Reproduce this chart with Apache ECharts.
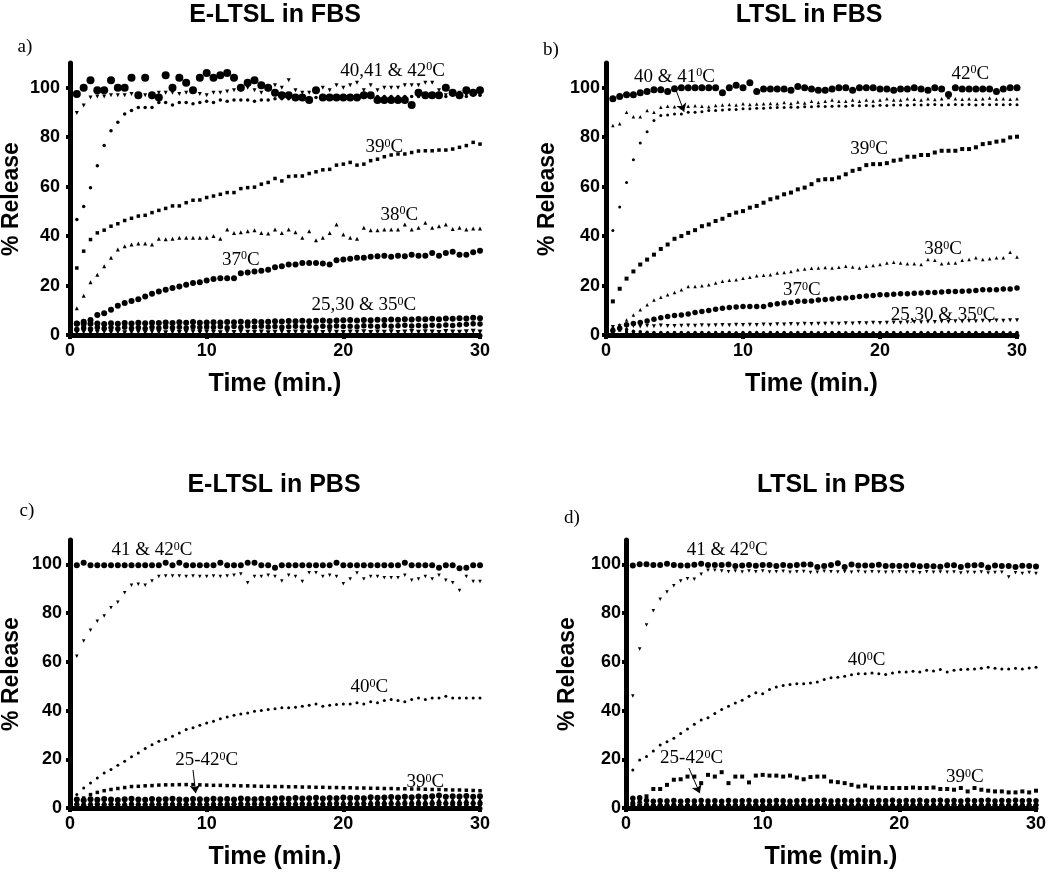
<!DOCTYPE html>
<html>
<head>
<meta charset="utf-8">
<script src="https://cdn.jsdelivr.net/npm/echarts@6/dist/echarts.min.js"></script>
<style>html,body{margin:0;padding:0;background:#fff}#c{width:1050px;height:874px}</style>
</head>
<body>
<div id="c"></div>
<script>
// ---------- sampling times (min) ----------
const TIME = [0.5,1,1.5,2,2.5,3,3.5,4,4.5,5, 5.5,6,6.5,7,7.5,8,8.5,9,9.5,10, 10.5,11,11.5,12,12.5,13,13.5,14,14.5,15, 15.5,16,16.5,17,17.5,18,18.5,19,19.5,20, 20.5,21,21.5,22,22.5,23,23.5,24,24.5,25, 25.5,26,26.5,27,27.5,28,28.5,29,29.5,30];
const X_TICKS = [0,10,20,30];
const Y_TICKS = [0,20,40,60,80,100];

// ---------- a) E-LTSL in FBS ----------
const A42 = [97.5,100,103,99,99,103,100,100,104,97, 104,97,96,105,100,104,102,99,104,106, 104,105,106,104,100,102,103,101,100,98, 97,97,96,96,95,99,96,96,96,96, 96,96,97,97,95,95,95,95,95,93, 98,97,97,97,100,98,97,99,98,99];
const A41 = [89.8,92.8,96,96.5,96.5,97,97,97,97.5,97, 97,96,98,98,98,97.5,98,98.5,97.5,97, 98,98,98.5,99,99,100,99,98,99,101, 100,103,99,98,98,99,100,99,101,100, 101,102,99,101,99,100,100,100,101,101, 101,102,102,99,97,97,98,97,97,97];
const A40 = [46.7,52,59.6,68.4,76.6,82.6,86,89.4,90.8,92, 92,92,94,94,93,94,94,93.5,94,94.5, 94,95,94.5,95,95,95,94.5,95,95,95.5, 95.5,95.5,96,96,96,96,96,96,96,96, 96,96,96,96,96.5,96.5,96.5,96.5,96.5,96.5, 96.5,97,97,96.5,96.5,97,97,96.5,97,97];
const A39 = [27.1,33.9,38.6,41.3,42.4,44,45,46.3,47.2,48.1, 48.4,49.5,50.4,51.2,52.2,52.2,53.5,54.5,54.6,55.6, 56.2,56.9,57.6,57.6,59.2,59.6,59.8,61,61.7,63.3, 62.3,64.1,64.3,64.3,65.3,66,66.8,67,68.7,69.1, 69.8,68.7,69.1,70.5,71.1,72.1,72.8,73.2,73.2,73.8, 74.4,74.5,74.5,74.8,74.8,75.2,75.9,76.6,77.9,77.2];
const A38 = [10.8,15.9,21.3,24.4,27.8,31.2,34.6,35.9,36.6,37, 37,36.6,38.9,38.7,38.9,39.3,39.3,39.3,39.3,39.3, 40,38.9,42.7,41.3,41.6,42,42.4,41.3,41,42.7, 41.3,42.7,41.6,39.3,42,38.3,39.3,41.3,44.7,40.6, 39.3,38.9,43.4,42.4,42.4,42.7,42.7,42.7,44.7,42.7, 43.4,45.4,43.4,44,44.7,42.9,43.4,42.7,43.1,43.1];
const A37 = [4.7,5.4,6.1,8.1,8.8,10.2,11.8,12.9,13.8,14.5, 15.6,16.7,17.6,18.3,19,19.6,20.3,21,21.3,22, 22.6,23,23,23,25,25.3,25.7,26,26.4,27.4, 27.8,28.5,28.5,29.1,29.1,29.1,28.9,28.5,30.2,30.5, 30.8,31.2,31.2,31.6,31.8,32.1,31.6,32.1,31.8,32.5, 32.1,32.1,33.2,32.1,33.2,33.7,32.5,32.5,33.5,34.1];
const A35 = [4.5,4.6,4.5,4.7,4.4,4.8,4.6,4.9,4.7,5, 4.8,5,4.9,5.1,4.9,5.2,5,5.3,5,5.1, 5.2,5.1,5.3,5.2,5.4,5.2,5.5,5.3,5.4,5.6, 5.5,5.7,5.6,5.8,5.6,5.8,5.9,5.7,5.9,6, 6.1,5.9,6.1,6,6.2,6.1,6.3,6.2,6.4,6.3, 6.5,6.4,6.6,6.4,6.7,6.6,6.8,6.7,7,6.8];
const A30 = [2.2,2.8,2.4,3,2.6,2.9,2.5,3.1,2.7,3, 2.6,3.1,2.8,3.2,2.9,3.1,2.8,3.3,3,3.2, 3.1,3.3,2.9,3.4,3.1,3.6,3.2,3.5,3.2,3.4, 3.1,3.3,3.5,3.2,3.4,3.1,3.5,3.3,3.6,3.4, 3.5,3.3,3.7,3.6,3.4,3.8,3.5,3.7,3.9,3.6, 3.8,3.6,3.9,3.7,4,3.8,4.1,4.3,4.5,4.4];
const A25 = [1,1.2,0.9,1.1,1.3,1,1.2,0.9,1.1,1.2, 1,1.3,1.1,0.9,1.2,1,1.1,1.3,1,1.2, 1.1,0.9,1.2,1,1.3,1.1,1,1.2,0.9,1.1, 1.3,1,1.2,1.1,0.9,1.2,1,1.3,1.1,1, 1.2,1.1,1.3,1,1.2,1.1,1.3,1,1.2,1.4, 1.1,1.3,1.2,1,1.4,1.2,1.1,1.3,1.5,1.2];

// ---------- b) LTSL in FBS ----------
const B42 = [95.5,96.5,97.2,97.2,98,98.5,99.2,99.2,98.5,99.6, 100,100,100,100,100,100,98,100,101,100, 102,98.5,99.5,99.5,99.5,99.5,99,100.5,100,99.5, 99,99,99.5,100,100,99,100,100,100,99.5, 99.5,99,99.5,99.5,100,99.5,99,100,99.5,97.3, 100,99.5,99.5,99.5,99.5,99.5,98.5,99.5,100,100];
const B41 = [84.7,85.4,90.1,88.3,88.3,90.8,90.1,92.1,92.5,92.3, 92,92.5,92.7,92.5,92.3,92.8,93,93.2,93,93.5, 93.2,93.4,93.5,93.6,93.5,94,93.6,94.2,93.8,94.5, 94,94.5,95,94.5,94.5,95,94.5,95,94.6,95, 95.5,95,95,95.5,95.3,95,95.5,95.2,95.5,96, 95.5,95.3,95.5,95.3,95.5,95.8,95.4,95.5,95.3,95.5];
const B40 = [42.3,51.8,61.7,70.9,77.6,82.2,86.7,88.8,89,89.4, 89.4,90.1,90.1,90.3,90.8,90.8,91,91.2,91.2,91.5, 91.5,91.7,91.7,91.9,92,92,92.1,92.1,92.3,92.3, 92.5,92.4,92.5,92.6,92.5,92.8,92.7,92.8,92.6,92.9, 92.8,93,93,92.9,93.1,93,93.1,93.2,93,93.1, 93.2,93.1,93.2,93,93.2,93.1,93.2,93.1,93.2,93.1];
const B39 = [13.6,18.7,22.8,25.7,28.5,30.5,32.5,34.8,36.6,38.9, 40,41.3,42.4,44,44.7,46.1,47,48.5,49.5,50.1, 51.5,52.2,53.5,54.9,55.6,56.9,57.6,58.9,59.6,61, 62.6,63,63,63.7,65,66.4,67.1,68.7,69.1,69.1, 69.5,70.5,70.9,72.1,72.1,72.8,72.8,73.8,74.5,74.5, 74.5,75.2,75.2,75.9,77.2,77.6,78.2,78.6,79.9,80.2];
const B38 = [2,4.1,6.1,8.1,10.2,12.2,14.2,15.3,16.3,17.2, 18.3,19.6,19.6,19.9,20.3,21,21.7,22.1,22.3,23, 23.4,24,24.2,24.4,25.1,25.3,25.7,26.4,26.7,27, 27.1,27.3,27.1,27.4,27.8,27.5,27.1,27.8,28.1,28.5, 29.1,29.4,29.1,28.8,28.8,28.5,30.5,30.2,28.8,29.1, 29.1,30.2,30.5,31.2,30.5,30.8,31.2,31.2,33.5,31.5];
const B37 = [1.8,2.7,4.1,4.7,5.1,5.7,6.4,7,7.5,7.9, 8.1,8.5,9.1,9.5,9.9,10.4,10.8,11.1,11.3,11.5, 11.5,11.5,11.5,12.2,12.6,12.9,13.1,13.6,13.6,13.8, 14.2,14.4,14.6,14.9,15,15.2,15.6,15.8,16,16.3, 16.3,16.5,16.7,16.7,16.9,17,17.2,17.2,17.4,17.6, 17.6,17.7,17.8,18,18.3,18.3,18.3,18.6,18.6,19];
const B35 = [3.2,3.5,3.3,3.6,3.4,3.7,3.5,3.8,3.6,3.6, 3.7,3.8,3.7,3.9,3.8,3.9,4,3.9,4.1,4, 4.1,4,4.2,4.1,4.3,4.2,4.4,4.3,4.5,4.4, 4.6,4.5,4.7,4.6,4.8,4.7,4.9,4.8,5,4.9, 5,5.1,5,5.2,5.3,5.2,5.4,5.3,5.5,5.4, 5.6,5.5,5.7,5.6,5.8,5.7,5.9,5.8,6,6];
const B30 = [2.6,2.9,2.2,1.5,1.3,1.1,1,1,0.9,1, 1,0.9,1,1,0.9,1,1,1,0.9,1, 1,1,0.9,1,1,1,0.9,1,1,1, 0.9,1,1,1,0.9,1,1,1,0.9,1, 1,1,0.9,1,1,1,0.9,1,1,1, 0.9,1,1,1,0.9,1,1,1,0.9,1];
const B25 = [1.6,1.9,1.3,0.7,0.5,0.5,0.4,0.4,0.5,0.4, 0.4,0.5,0.4,0.4,0.5,0.4,0.4,0.5,0.4,0.4, 0.5,0.4,0.4,0.5,0.4,0.4,0.5,0.4,0.4,0.5, 0.4,0.4,0.5,0.4,0.4,0.5,0.4,0.4,0.5,0.4, 0.4,0.5,0.4,0.4,0.5,0.4,0.4,0.5,0.4,0.4, 0.5,0.4,0.4,0.5,0.4,0.4,0.5,0.4,0.4,0.5];

// ---------- c) E-LTSL in PBS ----------
const C42 = [99.6,100.7,99.6,99.6,99.6,99.6,99.6,99.6,99.6,99.6, 99.6,99.6,99.6,100.7,99.6,100.7,99.6,99.6,99.6,99.6, 99.6,100.7,99.6,99.6,99.6,100.7,100.7,99.6,99.6,98.6, 99.6,99.6,99.6,99.6,99.6,99.6,99.6,99.6,100.7,99.6, 99.6,99.6,99.6,99.6,99.6,99.6,99.6,99.6,100.7,99.6, 99.6,99.6,99.6,98.6,99.6,99.6,98.4,98.6,99.6,99.6];
const C41 = [62.3,68.5,73,76.7,78.8,82.2,84.5,88.4,91.4,91.8, 91.4,93.2,95,95.2,95.2,95.2,95,95.2,95,95, 95.2,95,95.2,95.5,96,92.5,95,95,95.5,95, 93.2,95.5,95,93,96.6,96.6,95,95.5,95,92, 94,96.5,94,95,95,94.5,94.5,94.5,95.5,93.5, 94,95,94,95.5,93.5,92.5,89.3,95,93,93];
const C40 = [5.5,8.2,10.3,12.3,14.4,15.8,17.5,19.2,21,22.6, 24.4,26,27.4,28.1,29.5,30.8,32.2,32.9,34,34.9, 35.6,36.6,37.3,38.1,38.6,39,39.7,40,40.4,40.7, 41.1,41.1,41.4,41.8,42.2,42.7,41.8,42.2,42.5,42.7, 42.7,43.2,42.7,43.6,43.2,44.1,44.5,44.1,43.6,44.5, 45.2,44.5,45.2,45.2,45.9,45.2,45.2,45.2,45.2,45.2];
const C39 = [2,4.1,5.5,6.4,7.1,7.6,8,8.4,8.8,8.9, 9.1,9.2,9.4,9.5,9.5,9.6,9.6,9.6,9.5,9.4, 9.3,9.3,9.2,9.2,9.1,9.1,9,8.9,8.9,8.8, 8.8,8.7,8.7,8.6,8.6,8.5,8.5,8.4,8.4,8.3, 8.3,8.2,8.2,8.1,8.1,8,8,7.9,7.9,7.8, 7.8,7.7,7.6,7.6,7.5,7.4,7.4,7.3,7.2,7.1];
const C38 = [3.5,3.2,3.6,3.4,3.7,3.5,3.3,3.6,3.8,3.5, 3.4,3.7,3.5,3.6,3.8,3.5,3.4,3.7,3.6,3.5, 3.8,3.6,3.7,3.5,3.9,3.7,3.6,3.8,3.7,3.9, 4,3.8,4.1,3.9,4,4.2,3.9,4.1,4,4.3, 4.1,4.2,4,4.4,4.2,4.3,4.5,4.3,4.6,4.4, 4.7,4.5,4.8,5.1,4.6,4.8,4.7,4.9,4.6,4.8];
const C37 = [2.6,2.3,2.5,2.7,2.4,2.6,2.5,2.3,2.7,2.5, 2.4,2.6,2.5,2.7,2.4,2.6,2.5,2.7,2.6,2.4, 2.6,2.5,2.7,2.6,2.8,2.5,2.7,2.6,2.8,2.6, 2.7,2.9,2.6,2.8,2.7,2.9,2.7,2.8,3,2.7, 2.9,2.8,3,2.8,3.1,2.9,3,2.8,3.1,3, 3.2,2.9,3.1,3.3,3,3.2,3.1,3.3,3,3.2];
const C35 = [1.3,1.1,1.2,1.4,1.2,1.3,1.1,1.2,1.4,1.2, 1.3,1.1,1.3,1.2,1.4,1.2,1.1,1.3,1.2,1.4, 1.2,1.3,1.1,1.4,1.2,1.3,1.5,1.2,1.3,1.4, 1.2,1.5,1.3,1.4,1.2,1.5,1.3,1.4,1.6,1.3, 1.5,1.4,1.6,1.3,1.5,1.4,1.6,1.5,1.7,1.4, 1.6,1.5,1.7,1.6,1.8,1.5,1.7,1.6,1.8,1.7];
const C30 = [0.6,0.5,0.7,0.6,0.5,0.6,0.7,0.5,0.6,0.6, 0.7,0.5,0.6,0.6,0.7,0.5,0.6,0.7,0.6,0.5, 0.6,0.7,0.6,0.5,0.6,0.7,0.6,0.6,0.5,0.7, 0.6,0.6,0.7,0.5,0.6,0.7,0.6,0.5,0.6,0.7, 0.6,0.6,0.5,0.7,0.6,0.6,0.7,0.5,0.6,0.7, 0.6,0.5,0.7,0.6,0.6,0.7,0.5,0.6,0.7,0.6];

// ---------- d) LTSL in PBS ----------
const D42 = [99.5,100,100,99.7,99.7,100.3,99.7,99.5,99.5,99.8, 100.3,99.7,99.7,99.7,99.9,99.3,99.5,99.7,99.4,99.7, 99.7,99.3,99.7,99.4,99.7,99.9,99.9,98.9,99.3,99.7, 100.5,98.9,99.9,99.5,99.5,99.5,99.8,99.3,99.4,99.3, 99.4,99.6,99.2,99.3,99.2,99,99.6,99.6,98.9,99.5, 99.6,99.7,98.7,99.5,99.3,99.3,98.9,99.4,99.3,99.1];
const D41 = [46,65.3,75.1,81,85.7,88.7,91.2,93.2,94.1,93.9, 95.9,97.6,97.6,97.3,97,97.3,96.9,97.3,97,97.3, 96.9,97,97.2,96.8,97,97.1,96.7,96.8,97.2,97, 96.9,97,96.8,97.1,96.8,97,96.9,96.8,96.9,97, 96.8,96.9,96.6,97,96.8,96.9,96.8,96.9,96.5,96.8, 96.7,96.9,96.5,96.7,96.8,94.8,96.6,96.3,96.7,96.3];
const D40 = [15.6,19.7,21.1,23.4,25.9,27.2,28.6,30.6,32.4,34.4, 36.1,37,38.8,40.4,41.8,43.1,44.2,45.9,47.3,46.9, 48.6,49.7,50.3,50.7,51,51,51.3,51.7,52.7,53.5, 53.7,54.1,54.7,55.1,55.1,55.4,55.1,54.8,55.4,55.8, 55.8,56.1,55.8,56.5,56.2,56.8,55.8,56.5,56.8,56.9, 57.1,57.4,57.8,57.4,57.1,57.1,57.4,57.1,57.5,57.8];
const D39 = [2.3,3.4,4.8,7.8,7.8,9.5,11.6,11.8,12.9,12.9, 10.2,13.6,12.9,14.7,10.2,12.9,12.9,10.5,13.3,13.6, 13.3,13.3,12.9,13.3,12.5,11.8,12.7,12.9,12.9,10.9, 10.6,10.2,9.5,8.8,9.2,8.4,8.4,8.2,8.2,8.2, 8.2,8.4,8.2,8.2,8.4,7.8,7.8,7.5,8.2,6.8, 8.2,7.5,7.1,6.8,6.8,6.4,6.4,6.8,6.4,7.1];
const D38 = [4,4.2,3.1,2.8,3,2.9,3.1,2.8,3,2.9, 3.1,2.9,3,2.8,3.1,2.9,3,3.1,2.8,3, 2.9,3.1,3,2.8,3,3.1,2.9,3,3.2,2.9, 3,3.1,2.9,3.2,3,2.9,3.1,3,3.2,2.9, 3.1,3,3.2,2.9,3.1,3.2,3,3.1,2.9,3.2, 3,3.1,3.2,2.9,3.1,3,3.2,3,3.1,3];
const D37 = [3,3.1,2.2,2,2.1,1.9,2,2.1,1.9,2, 2.1,2,1.9,2.1,2,2.2,2,1.9,2.1,2, 2.2,2,2.1,1.9,2.1,2,2.2,2.1,2,2.2, 2,2.1,2.2,2,2.1,2.3,2,2.2,2.1,2, 2.2,2.1,2.3,2,2.2,2.1,2,2.3,2.1,2.2, 2,2.2,2.1,2.3,2.2,2,2.2,2.1,2.3,2.1];
const D35 = [1.1,1,1.2,0.9,1.1,1,1.2,1,0.9,1.1, 1,1.2,1,1.1,0.9,1,1.2,1,1.1,1, 0.9,1.1,1,1.2,1,1.1,0.9,1,1.2,1, 1.1,1,0.9,1.1,1,1.2,1,1.1,0.9,1, 1.2,1,1.1,1,0.9,1.1,1,1.2,1,1.1, 0.9,1,1.2,1,1.1,1,0.9,1.1,1,1.2];
const D30 = [0.5,0.6,0.4,0.5,0.6,0.5,0.4,0.6,0.5,0.5, 0.6,0.4,0.5,0.6,0.5,0.4,0.5,0.6,0.5,0.4, 0.6,0.5,0.5,0.4,0.6,0.5,0.4,0.5,0.6,0.5, 0.5,0.4,0.6,0.5,0.5,0.6,0.4,0.5,0.5,0.6, 0.4,0.5,0.6,0.5,0.4,0.5,0.6,0.5,0.5,0.4, 0.6,0.5,0.4,0.5,0.6,0.5,0.5,0.4,0.6,0.5];

// ---------- text ----------
const TITLES = ['E-LTSL in FBS','LTSL in FBS','E-LTSL in PBS','LTSL in PBS'];
const LETTERS = ['a)','b)','c)','d)'];
const X_NAME = 'Time (min.)';
const Y_NAME = '% Release';
// annotation text (the superscript 0 and "C" are appended) and their data positions [t, %]
const ANN_A = [['40,41 & 42', 23.6, 106.9], ['39', 23, 76], ['38', 24.1, 48.6], ['37', 12.5, 30.4], ['25,30 & 35', 21.5, 12.1]];
const ANN_B = [['40 & 41', 5, 104.5], ['42', 26.6, 105.7], ['39', 19.2, 75.3], ['38', 24.6, 34.8], ['37', 14.3, 18.2], ['25,30 & 35', 24.6, 8.1]];
const ANN_C = [['41 & 42', 6, 105.7], ['40', 21.9, 49.6], ['25-42', 10, 19.7], ['39', 26, 10.7]];
const ANN_D = [['41 & 42', 7.4, 106], ['40', 17.6, 60.6], ['25-42', 4.8, 20.5], ['39', 24.8, 12.7]];
const ARROW_B = [[5.1, 99.2], [5.7, 90.3]];
const ARROW_C = [[9.0, 15.6], [9.2, 6.1]];
const ARROW_D = [[4.6, 16.4], [5.4, 6.1]];

// ---------- layout ----------
const GRIDS = [
  {left: 70, right: 570, top: 63, bottom: 539},
  {left: 606, right: 33, top: 63, bottom: 539},
  {left: 70, right: 570, top: 540, bottom: 66},
  {left: 626, right: 14, top: 540, bottom: 66}
];
const Y_LABEL_MARGIN = [10, 6, 8, 5];
const TITLE_POS = [[275, 15], [809, 15], [274, 485], [831, 485]];
const LETTER_POS = [[25, 47], [551, 50], [27, 511], [572, 518]];

const SANS = '"Liberation Sans", Arial, sans-serif';
const SERIF = '"Liberation Serif", "Times New Roman", serif';

function sc(g, name, vals, symbol, size, rot) {
  return {
    type: 'scatter', name: name, xAxisIndex: g, yAxisIndex: g,
    symbol: symbol, symbolSize: size, symbolRotate: rot || 0,
    itemStyle: {color: '#000', opacity: 1}, silent: true,
    data: TIME.map((t, i) => [t, vals[i]])
  };
}
function ann(g, items, arrow) {
  const s = {
    type: 'scatter', xAxisIndex: g, yAxisIndex: g, symbolSize: 0, silent: true, z: 6,
    itemStyle: {color: '#000'},
    data: items.map(a => ({name: a[0], value: [a[1], a[2]]})),
    label: {
      show: true, position: 'inside', color: '#000', opacity: 1,
      textBorderWidth: 0, textShadowBlur: 0,
      formatter: p => '{n|' + p.name + '}{s|0}{n|C}',
      rich: {
        n: {fontFamily: SERIF, fontSize: 19, color: '#000', textBorderWidth: 0},
        s: {fontFamily: SERIF, fontSize: 12, color: '#000', textBorderWidth: 0, verticalAlign: 'top'}
      }
    }
  };
  if (arrow) {
    s.markLine = {
      silent: true, symbol: ['none', 'arrow'], symbolSize: 8, animation: false,
      label: {show: false},
      lineStyle: {color: '#000', width: 1, type: 'solid', opacity: 1},
      data: [[{coord: arrow[0]}, {coord: arrow[1]}]]
    };
  }
  return s;
}

const xAxes = GRIDS.map((g, i) => ({
  type: 'value', gridIndex: i, min: 0, max: 30, interval: 10,
  name: X_NAME, nameLocation: 'middle', nameGap: 37,
  nameTextStyle: {fontFamily: SANS, fontSize: 25, fontWeight: 'bold', color: '#000'},
  axisLine: {show: true, onZero: false, lineStyle: {color: '#000', width: 5}},
  axisTick: {show: true, length: 4, lineStyle: {color: '#000', width: 4}},
  axisLabel: {show: true, margin: 7, fontFamily: SANS, fontSize: 18, fontWeight: 'bold', color: '#000'},
  splitLine: {show: false}
}));
const yAxes = GRIDS.map((g, i) => ({
  type: 'value', gridIndex: i, min: 0, max: 110, interval: 20,
  name: Y_NAME, nameLocation: 'middle', nameGap: 47,
  nameTextStyle: {fontFamily: SANS, fontSize: 23, fontWeight: 'bold', color: '#000'},
  axisLine: {show: true, onZero: false, lineStyle: {color: '#000', width: 5}},
  axisTick: {show: true, length: 4, customValues: Y_TICKS, lineStyle: {color: '#000', width: 4}},
  axisLabel: {show: true, margin: Y_LABEL_MARGIN[i], customValues: Y_TICKS, fontFamily: SANS, fontSize: 18, fontWeight: 'bold', color: '#000'},
  splitLine: {show: false}
}));

const series = [
  // a
  sc(0, 'a25', A25, 'triangle', 5, 180),
  sc(0, 'a30', A30, 'circle', 5.5),
  sc(0, 'a35', A35, 'circle', 6),
  sc(0, 'a37', A37, 'circle', 6),
  sc(0, 'a38', A38, 'triangle', 4),
  sc(0, 'a39', A39, 'rect', 3.5),
  sc(0, 'a40', A40, 'circle', 3.5),
  sc(0, 'a41', A41, 'triangle', 4, 180),
  sc(0, 'a42', A42, 'circle', 8),
  // b
  sc(1, 'b25', B25, 'rect', 3),
  sc(1, 'b30', B30, 'circle', 3.5),
  sc(1, 'b35', B35, 'triangle', 4, 180),
  sc(1, 'b37', B37, 'circle', 5.5),
  sc(1, 'b38', B38, 'triangle', 3.5),
  sc(1, 'b39', B39, 'rect', 4),
  sc(1, 'b40', B40, 'circle', 3),
  sc(1, 'b41', B41, 'triangle', 3.5),
  sc(1, 'b42', B42, 'circle', 7),
  // c
  sc(2, 'c30', C30, 'triangle', 5, 180),
  sc(2, 'c35', C35, 'circle', 5),
  sc(2, 'c37', C37, 'triangle', 6),
  sc(2, 'c38', C38, 'circle', 6),
  sc(2, 'c39', C39, 'rect', 3.5),
  sc(2, 'c40', C40, 'circle', 3),
  sc(2, 'c41', C41, 'triangle', 3.5, 180),
  sc(2, 'c42', C42, 'circle', 6),
  // d
  sc(3, 'd30', D30, 'triangle', 5, 180),
  sc(3, 'd35', D35, 'circle', 5),
  sc(3, 'd37', D37, 'triangle', 6),
  sc(3, 'd38', D38, 'circle', 5.5),
  sc(3, 'd39', D39, 'rect', 4),
  sc(3, 'd40', D40, 'circle', 3),
  sc(3, 'd41', D41, 'triangle', 3.5, 180),
  sc(3, 'd42', D42, 'circle', 6),
  // annotations
  ann(0, ANN_A, null),
  ann(1, ANN_B, ARROW_B),
  ann(2, ANN_C, ARROW_C),
  ann(3, ANN_D, ARROW_D)
];

const graphic = [];
TITLES.forEach((t, i) => graphic.push({
  type: 'text', x: TITLE_POS[i][0], y: TITLE_POS[i][1], silent: true,
  style: {text: t, fill: '#000', font: 'bold 25px ' + SANS, textAlign: 'center', textVerticalAlign: 'middle', align: 'center', verticalAlign: 'middle'}
}));
LETTERS.forEach((t, i) => graphic.push({
  type: 'text', x: LETTER_POS[i][0], y: LETTER_POS[i][1], silent: true,
  style: {text: t, fill: '#000', font: '19px ' + SERIF, textAlign: 'center', textVerticalAlign: 'middle', align: 'center', verticalAlign: 'middle'}
}));

const chart = echarts.init(document.getElementById('c'), null, {renderer: 'canvas'});
chart.setOption({
  backgroundColor: '#fff',
  animation: false,
  grid: GRIDS.map(g => Object.assign({containLabel: false, outerBoundsMode: 'none'}, g)),
  xAxis: xAxes,
  yAxis: yAxes,
  series: series,
  graphic: graphic
});
</script>
</body>
</html>
